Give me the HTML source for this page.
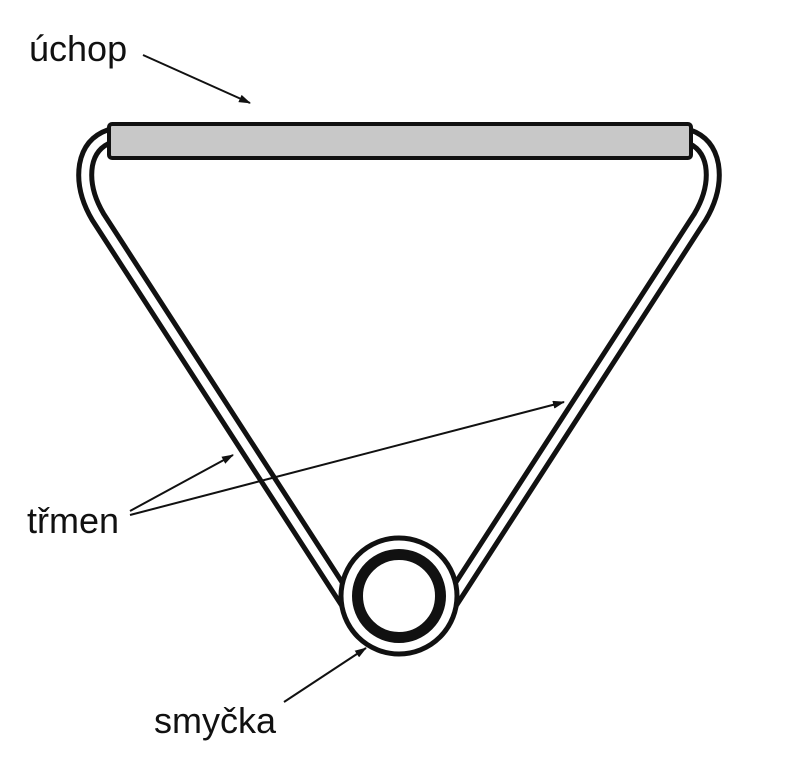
<!DOCTYPE html>
<html><head><meta charset="utf-8"><style>
body{margin:0;background:#fff;}
svg{display:block;}
text{font-family:"Liberation Sans",sans-serif;font-size:36px;fill:#111;}
</style></head><body>
<svg width="798" height="781" viewBox="0 0 798 781">
<defs><marker id="ah" markerWidth="12" markerHeight="8" refX="11" refY="4" orient="auto" markerUnits="userSpaceOnUse"><path d="M0,0 L12,4 L0,8 z" fill="#111"/></marker></defs>
<g fill="none" stroke-linejoin="round">
<path d="M362,625 L98,217 Q82,190 86,165 Q90,143 110,136" stroke="#111" stroke-width="18"/>
<path d="M362,625 L98,217 Q82,190 86,165 Q90,143 110,136" stroke="#fff" stroke-width="8"/>
<path d="M436,625 L700,217 Q716,190 712,165 Q708,143 688,136" stroke="#111" stroke-width="18"/>
<path d="M436,625 L700,217 Q716,190 712,165 Q708,143 688,136" stroke="#fff" stroke-width="8"/>
</g>
<circle cx="399" cy="596" r="58" fill="#fff" stroke="#111" stroke-width="5"/>
<circle cx="399" cy="596" r="41.5" fill="none" stroke="#111" stroke-width="11"/>
<rect x="109" y="124" width="582" height="34" rx="3" fill="#c8c8c8" stroke="#111" stroke-width="4"/>
<g stroke="#111" stroke-width="2" marker-end="url(#ah)">
<line x1="143" y1="55" x2="250" y2="103"/>
<line x1="130" y1="511" x2="233" y2="455"/>
<line x1="130" y1="515" x2="564" y2="402"/>
<line x1="284" y1="702" x2="366" y2="648"/>
</g>
<text x="29" y="61">úchop</text>
<text x="27" y="533">třmen</text>
<text x="154" y="733">smyčka</text>
</svg>
</body></html>
